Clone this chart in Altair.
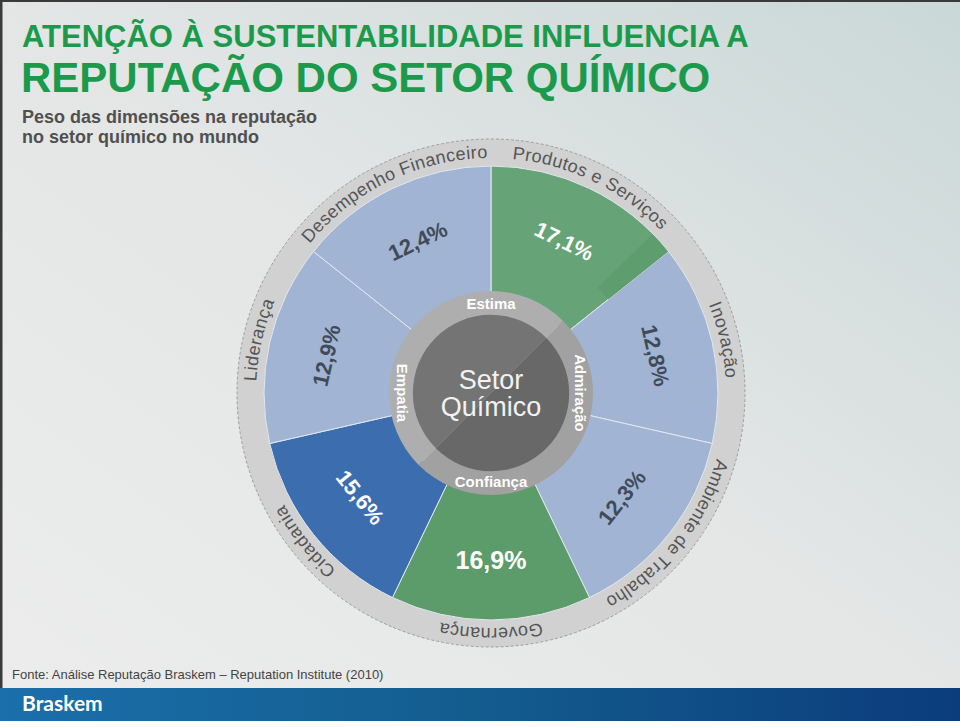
import math
import altair as alt
import pandas as pd

# ---------------- data ----------------
categories = ["Produtos e Serviços", "Inovação", "Ambiente de Trabalho", "Governança",
              "Cidadania", "Liderança", "Desempenho Financeiro"]
values = [17.1, 12.8, 12.3, 16.9, 15.6, 12.9, 12.4]
value_labels = ["17,1%", "12,8%", "12,3%", "16,9%", "15,6%", "12,9%", "12,4%"]
wedge_colors = ["#66a376", "#a1b4d3", "#a1b4d3", "#5c9c6a", "#3c6dae", "#a1b4d3", "#a1b4d3"]
label_colors = ["#ffffff", "#414a58", "#414a58", "#ffffff", "#ffffff", "#414a58", "#414a58"]
ring_labels = ["Estima", "Admiração", "Confiança", "Empatia"]
center_lines = ["Setor", "Químico"]
title_lines = ["ATENÇÃO À SUSTENTABILIDADE INFLUENCIA A", "REPUTAÇÃO DO SETOR QUÍMICO"]
subtitle_lines = ["Peso das dimensões na reputação", "no setor químico no mundo"]
source_text = "Fonte: Análise Reputação Braskem – Reputation Institute (2010)"
brand = "Braskem"

# ---------------- layout constants ----------------
CX, CY = 491, 393
R_IN, R_OUT = 96, 227
R_RIM = 254
R_RIM_TEXT = 240
R_PCT = 168
RIM_FS = 18
FONT = "Liberation Sans"

n = len(categories)
step = 360.0 / n
wdf = pd.DataFrame({
    "cat": categories,
    "value": values,
    "pct": value_labels,
    "color": wedge_colors,
    "tcolor": label_colors,
})
wdf["start"] = [i * step for i in range(n)]
wdf["end"] = [(i + 1) * step for i in range(n)]
wdf["mid"] = (wdf["start"] + wdf["end"]) / 2
wdf["rot"] = [m % 360 if (m <= 90 or m >= 270) else (m - 180) % 360 for m in wdf["mid"]]

# subtle shading slice at the end of the first (green) wedge
shade = wdf.iloc[[0]].copy()
shade["start"] = shade["end"] - 6.0
shade["color"] = "#5e9d6e"

# character layout for curved rim labels (Arial-like advance widths, em units)
ADV = {"a": .556, "b": .556, "c": .5, "d": .556, "e": .556, "f": .278, "g": .556, "h": .556,
       "i": .222, "j": .222, "k": .5, "l": .222, "m": .833, "n": .556, "o": .556, "p": .556,
       "q": .556, "r": .333, "s": .5, "t": .278, "u": .556, "v": .5, "w": .722, "x": .5,
       "y": .5, "z": .5, "ç": .5, "ã": .556, " ": .278, "P": .667, "S": .667, "D": .722,
       "F": .611, "I": .278, "A": .667, "G": .778, "C": .722, "L": .556}
rows = []
for cat, mid in zip(wdf["cat"], wdf["mid"]):
    widths = [ADV.get(ch, .556) * RIM_FS + 0.6 for ch in cat]
    total = sum(widths)
    start = math.radians(mid) - total / 2 / R_RIM_TEXT
    acc = 0.0
    for ch, w in zip(cat, widths):
        ang = math.degrees(start + (acc + w / 2) / R_RIM_TEXT)
        acc += w
        rows.append({"ch": ch, "theta": ang % 360, "rot": ang % 360})
cdf = pd.DataFrame(rows)

rdf = pd.DataFrame({"label": ring_labels,
                    "theta": [i * 90 for i in range(len(ring_labels))]})
rdf["rot"] = [0 if t % 180 == 0 else 90 for t in rdf["theta"]]

dummy = pd.DataFrame({"k": [0]})
THETA = alt.Scale(domain=[0, 360], range=[0, 2 * math.pi])
cx, cy = alt.value(CX), alt.value(CY)

# ---------------- background ----------------
bg = alt.Chart(dummy).mark_rect(
    color=alt.Gradient(gradient="linear", x1=0, y1=1, x2=1, y2=0,
                       stops=[alt.GradientStop(color="#ececec", offset=0),
                              alt.GradientStop(color="#e4e6e6", offset=0.5),
                              alt.GradientStop(color="#c9d8d7", offset=1)])
).encode(x=alt.value(0), x2=alt.value(960), y=alt.value(0), y2=alt.value(688))

band = alt.Chart(dummy).mark_rect(
    color=alt.Gradient(gradient="linear", x1=0, y1=0, x2=1, y2=0,
                       stops=[alt.GradientStop(color="#1b6fab", offset=0),
                              alt.GradientStop(color="#135c8e", offset=0.5),
                              alt.GradientStop(color="#0b3c7c", offset=1)])
).encode(x=alt.value(0), x2=alt.value(960), y=alt.value(688), y2=alt.value(721))

top_line = alt.Chart(dummy).mark_rule(color="#3a3a3a", strokeWidth=2).encode(
    x=alt.value(0), x2=alt.value(960), y=alt.value(1))
left_line = alt.Chart(dummy).mark_rule(color="#3a3a3a", strokeWidth=3).encode(
    x=alt.value(1), y=alt.value(0), y2=alt.value(688))

# ---------------- titles ----------------
t1 = alt.Chart(dummy).mark_text(text=title_lines[0], font=FONT, fontWeight="bold", fontSize=31,
                                color="#1c9a4b", align="left", baseline="alphabetic").encode(
    x=alt.value(22), y=alt.value(47))
t2 = alt.Chart(dummy).mark_text(text=title_lines[1], font=FONT, fontWeight="bold", fontSize=42,
                                color="#1c9a4b", align="left", baseline="alphabetic").encode(
    x=alt.value(21), y=alt.value(92))
s1 = alt.Chart(dummy).mark_text(text=subtitle_lines[0], font=FONT, fontWeight="bold", fontSize=18,
                                color="#505050", align="left", baseline="alphabetic").encode(
    x=alt.value(22), y=alt.value(123))
s2 = alt.Chart(dummy).mark_text(text=subtitle_lines[1], font=FONT, fontWeight="bold", fontSize=18,
                                color="#505050", align="left", baseline="alphabetic").encode(
    x=alt.value(22), y=alt.value(143))
src = alt.Chart(dummy).mark_text(text=source_text, font=FONT, fontSize=13, color="#444444",
                                 align="left", baseline="alphabetic").encode(
    x=alt.value(12), y=alt.value(679))
logo = alt.Chart(dummy).mark_text(text=brand, font="Lato", fontWeight="bold", fontSize=21,
                                  color="#ffffff", align="left", baseline="middle").encode(
    x=alt.value(22), y=alt.value(705))

# ---------------- wheel ----------------
rim = alt.Chart(dummy).mark_arc(innerRadius=0, outerRadius=R_RIM, theta=0, theta2=2 * math.pi,
                                color="#d1d1d1", stroke="#9c9c9c", strokeWidth=1,
                                strokeDash=[3, 2]).encode(x=cx, y=cy)

wedges = alt.Chart(wdf).mark_arc(innerRadius=R_IN, outerRadius=R_OUT, stroke="#e2e8f0",
                                 strokeWidth=1).encode(
    theta=alt.Theta("start:Q", scale=THETA, stack=None),
    theta2="end:Q",
    color=alt.Color("color:N", scale=None),
    x=cx, y=cy,
)

shade_arc = alt.Chart(shade).mark_arc(innerRadius=150, outerRadius=R_OUT - 0.5).encode(
    theta=alt.Theta("start:Q", scale=THETA, stack=None),
    theta2="end:Q",
    color=alt.Color("color:N", scale=None),
    x=cx, y=cy,
)

pct = alt.Chart(wdf).mark_text(radius=R_PCT, font=FONT, fontWeight="bold",
                               align="center", baseline="middle").encode(
    theta=alt.Theta("mid:Q", scale=THETA, stack=None),
    text="pct:N",
    angle=alt.Angle("rot:Q", scale=None),
    color=alt.Color("tcolor:N", scale=None),
    size=alt.condition(alt.datum.cat == "Governança", alt.value(25), alt.value(22)),
    x=cx, y=cy,
)

rim_text = alt.Chart(cdf).mark_text(radius=R_RIM_TEXT, font=FONT, fontSize=RIM_FS,
                                    color="#555555", align="center", baseline="middle").encode(
    theta=alt.Theta("theta:Q", scale=THETA, stack=None),
    text="ch:N",
    angle=alt.Angle("rot:Q", scale=None),
    x=cx, y=cy,
)

ring_a = alt.Chart(dummy).mark_arc(innerRadius=0, outerRadius=102, theta=math.radians(225),
                                   theta2=math.radians(405), color="#aeaeae").encode(x=cx, y=cy)
ring_b = alt.Chart(dummy).mark_arc(innerRadius=0, outerRadius=102, theta=math.radians(45),
                                   theta2=math.radians(225), color="#a1a1a1").encode(x=cx, y=cy)
core_a = alt.Chart(dummy).mark_arc(innerRadius=0, outerRadius=78, theta=math.radians(225),
                                   theta2=math.radians(405), color="#747474").encode(x=cx, y=cy)
core_b = alt.Chart(dummy).mark_arc(innerRadius=0, outerRadius=78, theta=math.radians(45),
                                   theta2=math.radians(225), color="#686868").encode(x=cx, y=cy)

ring_text = alt.Chart(rdf).mark_text(radius=89, font=FONT, fontWeight="bold", fontSize=15,
                                     color="#ffffff", align="center", baseline="middle").encode(
    theta=alt.Theta("theta:Q", scale=THETA, stack=None),
    text="label:N",
    angle=alt.Angle("rot:Q", scale=None),
    x=cx, y=cy,
)

c1 = alt.Chart(dummy).mark_text(text=center_lines[0], font=FONT, fontSize=27, color="#f2f2f2",
                                align="center", baseline="middle").encode(x=cx, y=alt.value(CY - 12))
c2 = alt.Chart(dummy).mark_text(text=center_lines[1], font=FONT, fontSize=27, color="#f2f2f2",
                                align="center", baseline="middle").encode(x=cx, y=alt.value(CY + 15))

chart = alt.layer(
    bg, band, top_line, left_line,
    t1, t2, s1, s2, src, logo,
    rim, wedges, shade_arc, pct, rim_text,
    ring_a, ring_b, core_a, core_b, ring_text, c1, c2,
).properties(
    width=960, height=727, autosize="none", padding=0, background="white"
).configure_view(stroke=None)

chart.save("out.html", embed_options={"renderer": "svg", "actions": False})
